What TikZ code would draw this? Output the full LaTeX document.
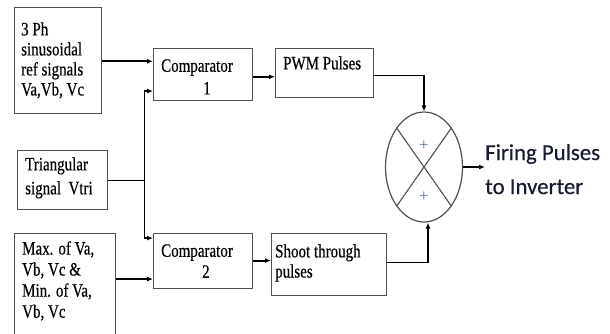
\documentclass[tikz,border=0pt]{standalone}
\usepackage{fontspec}
\setmainfont{Liberation Serif}
\newfontfamily\boxfont{Liberation Serif}[FakeBold=0.45]
\newfontfamily\calibfont{Carlito}[FakeBold=0.35]
\usetikzlibrary{shapes.geometric,arrows.meta,calc}
\definecolor{boxgray}{HTML}{505050}
\definecolor{plusblue}{HTML}{5A7A9A}
\definecolor{outnavy}{HTML}{161B2E}
% block label set in a tall serif: #1 name, #2 top-left corner, #3 line spacing, #4 text
\newcommand\blocklabel[4]{%
  \begin{scope}[shift={#2},yscale=1.26,transform shape]
    \node[txt,font=\boxfont\fontsize{15}{#3}\selectfont] (#1) at (0,0) {#4};
  \end{scope}}
\begin{document}
\begin{tikzpicture}[x=1pt,y=-1pt,
  blk/.style={draw=boxgray,line width=1.3pt,rectangle,inner sep=0pt,anchor=north west},
  txt/.style={inner sep=0pt,anchor=north west,align=left},
  thk/.style={line width=2pt,-{Latex[length=6pt,width=5pt]}},
  thn/.style={line width=1.2pt},
  thna/.style={line width=1.2pt,-{Latex[length=6pt,width=5pt]}},
  plus/.style={text=plusblue,inner sep=0pt,font=\fontsize{17}{17}\selectfont}]
\useasboundingbox (0,0) rectangle (610,333);

% blocks
\node[blk,minimum width=87pt,minimum height=106pt] (src) at (14,7) {};
\blocklabel{srct}{(21,22)}{15.9}{3 Ph\\sinusoidal\\ref signals\\Va,Vb, Vc}

\node[blk,minimum width=90pt,minimum height=59pt] (tri) at (17,150) {};
\blocklabel{trit}{(25,157)}{19}{Triangular\\signal\ \ Vtri}

\node[blk,minimum width=101pt,minimum height=110pt] (mm) at (14,233) {};
\blocklabel{mmt}{(22,241)}{16.7}{Max. of Va,\\Vb, Vc \&\\Min. of Va,\\Vb, Vc}

\node[blk,minimum width=99pt,minimum height=52pt] (cmp1) at (153,48) {};
\blocklabel{cmp1t}{(161,59)}{18}{Comparator\\\hspace*{42pt}1}

\node[blk,minimum width=99pt,minimum height=55pt] (cmp2) at (153,233) {};
\blocklabel{cmp2t}{(161,244)}{16.7}{Comparator\\\hspace*{41pt}2}

\node[blk,minimum width=98pt,minimum height=49pt] (pwm) at (275,48) {};
\blocklabel{pwmt}{(283,56)}{16}{PWM Pulses}

\node[blk,minimum width=115pt,minimum height=62pt] (sht) at (271,233) {};
\blocklabel{shtt}{(275,244)}{16}{Shoot through\\pulses}

% summing junction
\node[draw=boxgray,line width=1.2pt,ellipse,minimum width=77pt,minimum height=110pt,inner sep=0pt] (sum) at (424,167) {};
\draw[boxgray,line width=1.1pt] (sum.55) -- (sum.235);
\draw[boxgray,line width=1.1pt] (sum.125) -- (sum.305);
\node[plus] (plusa) at (424,146) {+};
\node[plus] (plusb) at (424,197) {+};

\node[inner sep=0pt,anchor=north west,align=left,text=outnavy,
  font=\calibfont\fontsize{22.8}{34}\selectfont] (fire) at (485,144) {Firing Pulses\\to Inverter};

% connectors
\coordinate (in1a) at ($(cmp1.north west)!0.25!(cmp1.south west)$);
\coordinate (in1b) at ($(cmp1.north west)!0.808!(cmp1.south west)$);
\coordinate (in2a) at ($(cmp2.north west)!0.09!(cmp2.south west)$);
\coordinate (in2b) at ($(cmp2.north west)!0.818!(cmp2.south west)$);
\coordinate (jx) at ($(tri.east)+(36,0)$);

\draw[thk] (src.east |- in1a) -- (in1a);
\draw[thn] (tri.east) -- (jx);
\draw[thn] (jx |- in1b) -- (jx |- in2a);
\draw[thna] (jx |- in1b) -- (in1b);
\draw[thna] (jx |- in2a) -- (in2a);
\draw[thk] (mm.east |- in2b) -- (in2b);

\coordinate (o1) at ($(cmp1.north east)!0.54!(cmp1.south east)$);
\draw[thk] (o1) -- (o1 -| pwm.west);
\coordinate (o2) at ($(cmp2.north east)!0.49!(cmp2.south east)$);
\draw[thk] (o2) -- (o2 -| sht.west);

\coordinate (p1) at ($(pwm.north east)!0.55!(pwm.south east)$);
\draw[thna] (p1) -| (sum.north);
\coordinate (s1) at ($(sht.north east)!0.47!(sht.south east)$);
\coordinate (sb) at ($(sum.south)+(4,0)$);
\draw[thna] (s1) -| (sb);

\draw[thk] (sum.east) -- (sum.east -| fire.west);
\end{tikzpicture}
\end{document}
